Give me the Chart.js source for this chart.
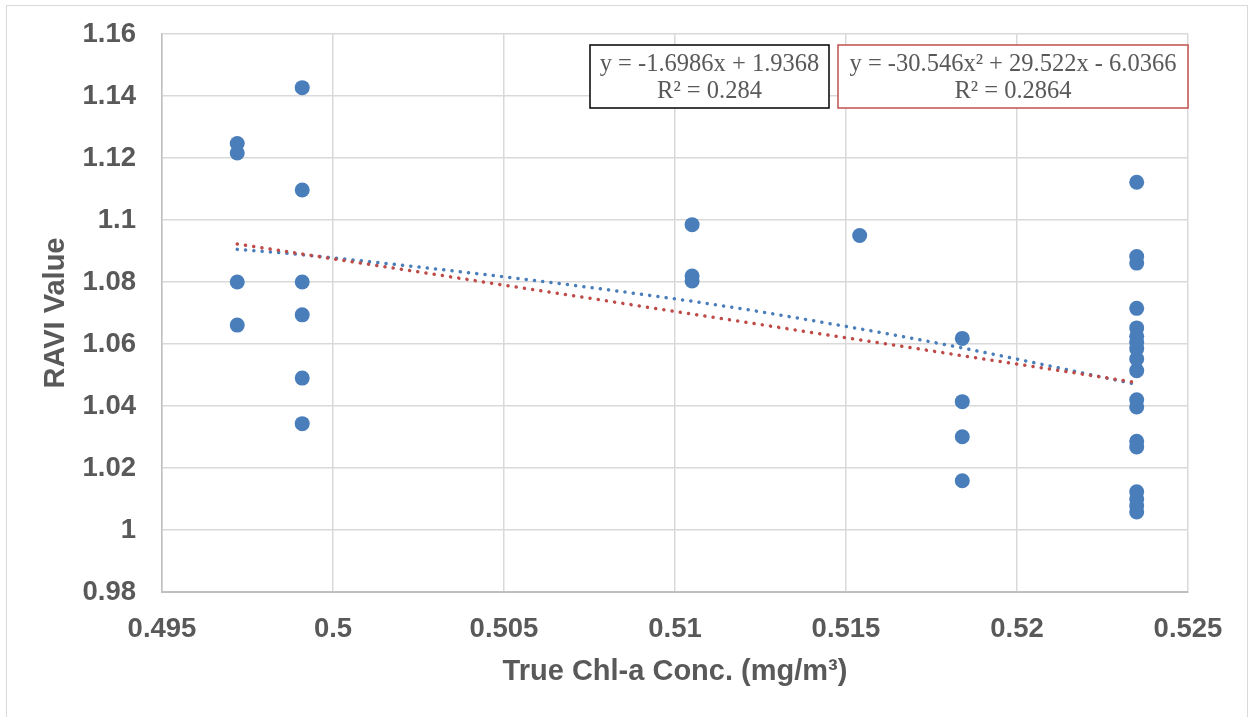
<!DOCTYPE html>
<html>
<head>
<meta charset="utf-8">
<title>RAVI Value vs True Chl-a Conc.</title>
<script src="https://cdn.jsdelivr.net/npm/chart.js@4.4.1/dist/chart.umd.min.js"></script>
<style>
	html, body { margin: 0; padding: 0; background: #fff; }
	#wrap { width: 1252px; height: 717px; position: relative; }
</style>
</head>
<body>
<div id="wrap"><canvas id="raviChart" width="1252" height="717"></canvas></div>
<script>
// samples: true chlorophyll-a concentration vs RAVI value
const chlX = [
	0.4972, 0.4972, 0.4972, 0.4972,
	0.4991, 0.4991, 0.4991, 0.4991, 0.4991, 0.4991,
	0.5105, 0.5105, 0.5105,
	0.5154,
	0.5184, 0.5184, 0.5184, 0.5184,
	0.5235, 0.5235, 0.5235, 0.5235, 0.5235, 0.5235, 0.5235, 0.5235, 0.5235,
	0.5235, 0.5235, 0.5235, 0.5235, 0.5235, 0.5235, 0.5235, 0.5235, 0.5235
];
const raviY = [
	1.1247, 1.1216, 1.0800, 1.0661,
	1.1427, 1.1097, 1.0800, 1.0694, 1.0490, 1.0343,
	1.0985, 1.0819, 1.0803,
	1.0950,
	1.0618, 1.0414, 1.0301, 1.0159,
	1.1122, 1.0882, 1.0861, 1.0715, 1.0652, 1.0625, 1.0605, 1.0585, 1.0552,
	1.0514, 1.0420, 1.0397, 1.0286, 1.0268, 1.0123, 1.0100, 1.0078, 1.0058
];

// trendline coefficients, highest power first
const linearCoef = [-1.6986, 1.9368];
const polyCoef = [-30.546, 29.522, -6.0366];
const linearLabel = ['y = -1.6986x + 1.9368', 'R\u00b2 = 0.284'];
const polyLabel = ['y = -30.546x\u00b2 + 29.522x - 6.0366', 'R\u00b2 = 0.2864'];

const xTicks = { min: 0.495, max: 0.525, step: 0.005 };
const yTicks = { min: 0.98, max: 1.16, step: 0.02 };

const axisColor = '#595959';
const markerBlue = '#4a7ebb';
const trendRed = '#be4b48';

function polyAt(coef, x) {
	let v = 0;
	for (let i = 0; i < coef.length; i++) {
		v = v * x + coef[i];
	}
	return v;
}

// trendlines span the x range of the samples
const trendXs = Array.from(new Set(chlX)).sort((a, b) => a - b);
const linearPts = [trendXs[0], trendXs[trendXs.length - 1]].map(x => ({x: x, y: polyAt(linearCoef, x)}));
const polyPts = trendXs.map(x => ({x: x, y: polyAt(polyCoef, x)}));

const scatterPts = chlX.map((x, i) => ({x: x, y: raviY[i]}));

function trimNum(v) {
	return String(+v.toFixed(3));
}

// white frame around the whole chart
const frame = {
	id: 'frame',
	beforeDraw(chart) {
		const ctx = chart.ctx;
		ctx.save();
		ctx.fillStyle = '#fff';
		ctx.fillRect(0, 0, chart.width, chart.height);
		ctx.strokeStyle = '#d9d9d9';
		ctx.lineWidth = 1;
		ctx.strokeRect(6.5, 5.5, chart.width - 11, chart.height + 5);
		ctx.restore();
	}
};

// equation boxes for the two trendlines
function drawEqBox(ctx, left, top, w, h, lines, stroke) {
	ctx.fillStyle = '#fff';
	ctx.fillRect(left, top, w, h);
	ctx.strokeStyle = stroke;
	ctx.lineWidth = 1.5;
	ctx.strokeRect(left, top, w, h);
	ctx.fillStyle = axisColor;
	ctx.font = '24.5px "Liberation Serif", "Times New Roman", serif';
	ctx.textAlign = 'center';
	ctx.textBaseline = 'middle';
	ctx.fillText(lines[0], left + w / 2, top + 20);
	ctx.fillText(lines[1], left + w / 2, top + 47);
}

const eqBoxes = {
	id: 'eqBoxes',
	afterDatasetsDraw(chart) {
		const ctx = chart.ctx;
		ctx.save();
		drawEqBox(ctx, 590, 45, 239, 63, linearLabel, '#000');
		drawEqBox(ctx, 838, 45, 350, 63, polyLabel, '#c0504d');
		ctx.restore();
	}
};

new Chart(document.getElementById('raviChart'), {
	type: 'scatter',
	data: {
		datasets: [
			{
				label: 'RAVI',
				data: scatterPts,
				backgroundColor: markerBlue,
				borderColor: markerBlue,
				pointRadius: 7.5,
				pointBorderWidth: 0,
				order: 3
			},
			{
				label: 'Poly. (RAVI)',
				data: polyPts,
				showLine: true,
				pointRadius: 0,
				borderColor: markerBlue,
				borderWidth: 3.5,
				borderDash: [0.1, 8.2],
				borderCapStyle: 'round',
				cubicInterpolationMode: 'monotone',
				order: 2
			},
			{
				label: 'Linear (RAVI)',
				data: linearPts,
				showLine: true,
				pointRadius: 0,
				borderColor: trendRed,
				borderWidth: 3.5,
				borderDash: [0.1, 8.2],
				borderCapStyle: 'round',
				order: 1
			}
		]
	},
	options: {
		responsive: false,
		animation: false,
		layout: { padding: { left: 0, top: 34, right: 64, bottom: 0 } },
		plugins: {
			legend: { display: false },
			tooltip: { enabled: false }
		},
		scales: {
			x: {
				type: 'linear',
				min: xTicks.min,
				max: xTicks.max,
				afterFit: function(scale) {
					scale.height = 125;
					scale.paddingLeft = 0;
					scale.paddingRight = 0;
				},
				border: { display: true, color: '#bfbfbf', width: 2 },
				grid: { color: '#d9d9d9', lineWidth: 1.5, drawTicks: false },
				ticks: {
					stepSize: xTicks.step,
					padding: 21,
					color: axisColor,
					font: { family: '"Liberation Sans", Arial, sans-serif', size: 27.5, weight: 'bold' },
					callback: trimNum
				},
				title: {
					display: true,
					text: 'True Chl-a Conc. (mg/m\u00b3)',
					color: axisColor,
					font: { family: '"Liberation Sans", Arial, sans-serif', size: 29, weight: 'bold' },
					padding: { top: 0, bottom: 28 }
				}
			},
			y: {
				type: 'linear',
				min: yTicks.min,
				max: yTicks.max,
				afterFit: function(scale) {
					scale.width = 162;
					scale.paddingTop = 0;
					scale.paddingBottom = 0;
				},
				border: { display: true, color: '#bfbfbf', width: 1.5 },
				grid: { color: '#d9d9d9', lineWidth: 1.5, drawTicks: false },
				ticks: {
					stepSize: yTicks.step,
					padding: 26,
					color: axisColor,
					font: { family: '"Liberation Sans", Arial, sans-serif', size: 27.5, weight: 'bold' },
					callback: trimNum
				},
				title: {
					display: true,
					text: 'RAVI Value',
					color: axisColor,
					font: { family: '"Liberation Sans", Arial, sans-serif', size: 29, weight: 'bold' },
					padding: { top: 39, bottom: 0 }
				}
			}
		}
	},
	plugins: [frame, eqBoxes]
});
</script>
</body>
</html>
